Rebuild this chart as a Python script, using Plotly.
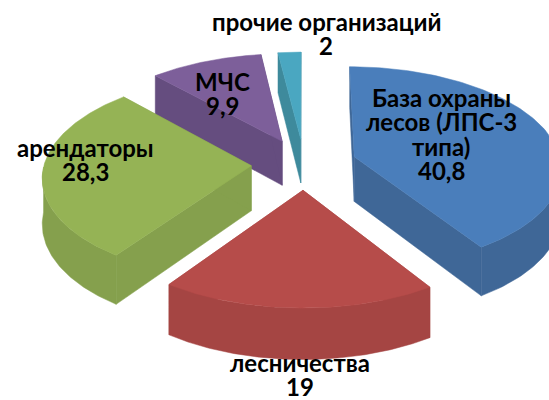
import numpy as np
import plotly.graph_objects as go

categories = [["База охраны", "лесов (ЛПС-3", "типа)"], ["лесничества"], ["арендаторы"], ["МЧС"], ["прочие организаций"]]
values = [40.8, 19, 28.3, 9.9, 2]
tops = ["#4A7EBB", "#B64C4A", "#95B355", "#7D5F9A", "#4AA7C1"]
walls = ["#3F6797", "#A54543", "#85A04D", "#654D7F", "#3E8A9C"]
label_xy = [(441, 97), (300, 362), (85, 147), (222, 81), (326, 21)]

W, H = 549, 400
CX, CY, R, K, P, EXPLODE, DEPTH = 304, 164, 207, 0.485, 0.1, 0.255, 45
FONT_SIZE, LINE_STEP = 24, 24.5


def proj(x, y, z=0.0):
    s = 1 / (1 + P * y)
    return CX + R * x * s, CY - K * R * y * s + DEPTH * s * z


fig = go.Figure()


def poly(xs, ys, color):
    fig.add_trace(go.Scatter(x=list(xs) + [xs[0]], y=list(ys) + [ys[0]], mode="lines", fill="toself",
                             fillcolor=color, line=dict(color=color, width=0.5), hoverinfo="skip", showlegend=False))


total = sum(values)
start = 0.0
slices = []
for v, top, wall in zip(values, tops, walls):
    sweep = 2 * np.pi * v / total
    slices.append((start, sweep, top, wall))
    start += sweep

for i in [4, 3, 0, 2, 1]:
    a0, sw, top, wall = slices[i]
    mid = a0 + sw / 2
    ox, oy = EXPLODE * np.sin(mid), EXPLODE * np.cos(mid)
    th = np.linspace(a0, a0 + sw, 120)
    ax, ay = ox + np.sin(th), oy + np.cos(th)
    for a in (a0, a0 + sw):
        ex, ey = ox + np.sin(a), oy + np.cos(a)
        p = [proj(ox, oy), proj(ex, ey), proj(ex, ey, 1), proj(ox, oy, 1)]
        poly([q[0] for q in p], [q[1] for q in p], wall)
    front = np.cos(th) < 0
    if front.any():
        fx, fy = ax[front], ay[front]
        u = [proj(a, b) for a, b in zip(fx, fy)]
        d = [proj(a, b, 1) for a, b in zip(fx[::-1], fy[::-1])]
        poly([q[0] for q in u + d], [q[1] for q in u + d], wall)
    pts = [proj(ox, oy)] + [proj(a, b) for a, b in zip(ax, ay)]
    poly([q[0] for q in pts], [q[1] for q in pts], top)

for name, v, (x, y) in zip(categories, values, label_xy):
    lines = name + [str(v).replace(".", ",")]
    for j, line in enumerate(lines):
        fig.add_annotation(x=x, y=y + j * LINE_STEP, text=f"<b>{line}</b>", showarrow=False,
                           font=dict(family="Lato, Open Sans, sans-serif", size=FONT_SIZE, color="#000000"))

fig.update_layout(width=W, height=H, margin=dict(l=0, r=0, t=0, b=0), paper_bgcolor="white", plot_bgcolor="white",
                  xaxis=dict(range=[0, W], visible=False, fixedrange=True),
                  yaxis=dict(range=[H, 0], visible=False, fixedrange=True), showlegend=False)
fig.write_html("out.html", config=dict(displayModeBar=False),
               post_script="document.body.style.margin='0';document.body.style.overflow='hidden';")
